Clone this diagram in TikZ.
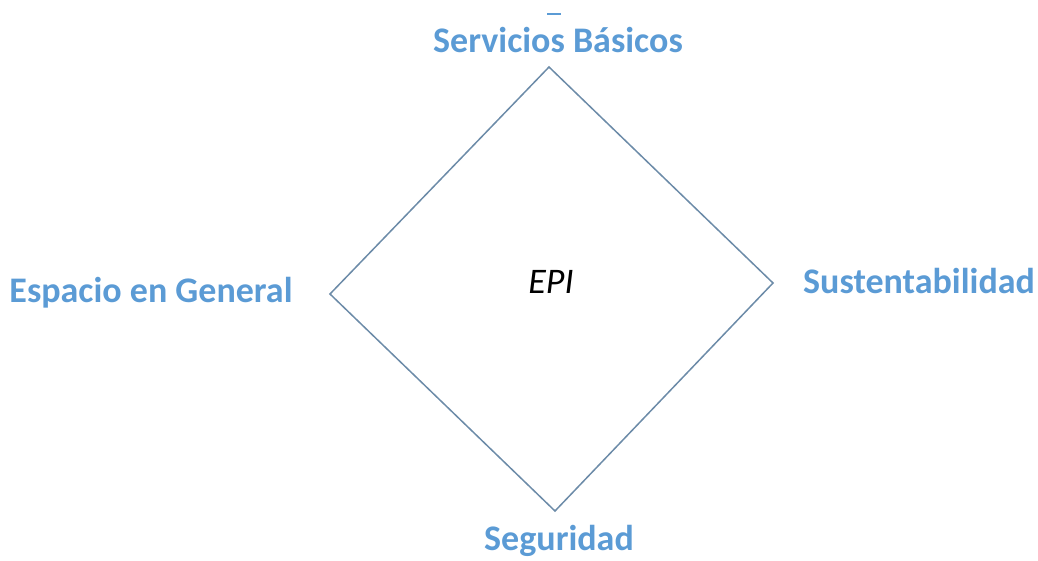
\documentclass[tikz,border=0pt]{standalone}
\usepackage{fontspec}
\setmainfont{Carlito}
\definecolor{lblue}{HTML}{5B9BD5}
\definecolor{dline}{HTML}{6C8BA8}
\begin{document}
\begin{tikzpicture}[x=1pt,y=-1pt,
  lbl/.style={font=\bfseries\fontsize{36}{40}\selectfont, text=lblue, inner sep=0pt, anchor=center},
  edge/.style={draw=dline, line width=1.5pt, line join=miter}]
\useasboundingbox (0,0) rectangle (1038,560);
\coordinate (T) at (549,67);
\coordinate (R) at (773,283);
\coordinate (B) at (555,511);
\coordinate (L) at (330,294);
\draw[edge] (T) -- (R) -- (B) -- (L) -- cycle;
\node[font=\itshape\fontsize{36}{40}\selectfont, inner sep=0pt] (epi) at (551,282) {EPI};
\node[lbl] (sb) at (558,40) {Servicios Básicos};
\node[lbl] (eg) at (151,293) {Espacio en General};
\node[lbl] (su) at (919,281) {Sustentabilidad};
\node[lbl] (se) at (559,541) {Seguridad};
\coordinate (d1) at (547,14);
\coordinate (d2) at (561,14);
\draw[draw=lblue, line width=1.5pt] (d1) -- (d2);
\end{tikzpicture}
\end{document}
